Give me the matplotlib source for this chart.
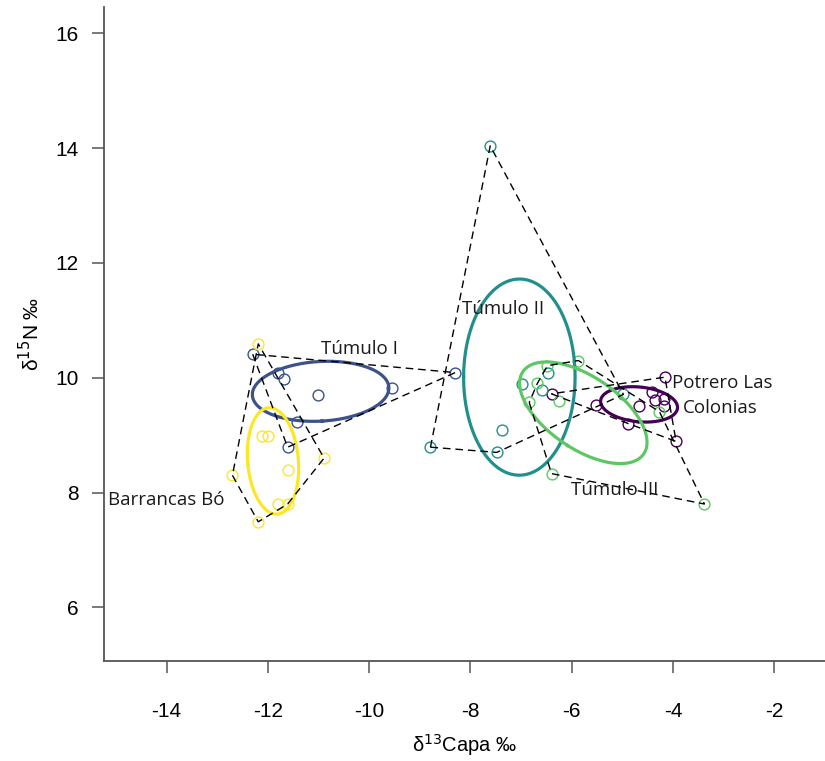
import numpy as np
import matplotlib
matplotlib.use("Agg")
import matplotlib.pyplot as plt

plt.rcParams['axes.unicode_minus'] = False

# groups, SIBER-style viridis colours
groups = ["Potrero Las Colonias", "Túmulo I", "Túmulo II", "Túmulo III", "Barrancas Bó"]
colors = ["#440154", "#3B528B", "#21908C", "#5DC863", "#FDE725"]

# d13C / d15N values
potrero_c = [-4.16, -5.52, -6.40, -4.67, -4.88, -4.42, -4.36, -4.18, -4.18, -3.94]
potrero_n = [10.01, 9.53, 9.72, 9.50, 9.20, 9.76, 9.61, 9.63, 9.51, 8.89]

tumulo1_c = [-12.30, -11.80, -11.68, -11.01, -9.55, -11.42, -11.61, -8.30]
tumulo1_n = [10.41, 10.09, 9.98, 9.70, 9.82, 9.23, 8.79, 10.09]

tumulo2_c = [-7.61, -8.79, -7.38, -7.48, -6.47, -6.58, -4.98, -6.99]
tumulo2_n = [14.04, 8.79, 9.09, 8.70, 10.08, 9.79, 9.71, 9.89]

tumulo3_c = [-5.87, -6.48, -6.68, -6.84, -6.25, -6.40, -3.38, -4.27]
tumulo3_n = [10.30, 10.21, 9.90, 9.57, 9.60, 8.33, 7.80, 9.41]

barrancas_c = [-12.19, -12.11, -11.99, -10.89, -11.61, -12.70, -11.80, -11.61, -12.19]
barrancas_n = [10.59, 8.99, 8.99, 8.60, 8.39, 8.30, 7.80, 7.80, 7.49]

data_c = [potrero_c, tumulo1_c, tumulo2_c, tumulo3_c, barrancas_c]
data_n = [potrero_n, tumulo1_n, tumulo2_n, tumulo3_n, barrancas_n]


def convex_hull(xs, ys):
    pts = sorted(set(zip(xs, ys)))

    def cross(o, a, b):
        return (a[0] - o[0]) * (b[1] - o[1]) - (a[1] - o[1]) * (b[0] - o[0])

    lower, upper = [], []
    for p in pts:
        while len(lower) >= 2 and cross(lower[-2], lower[-1], p) <= 0:
            lower.pop()
        lower.append(p)
    for p in reversed(pts):
        while len(upper) >= 2 and cross(upper[-2], upper[-1], p) <= 0:
            upper.pop()
        upper.append(p)
    hull = lower[:-1] + upper[:-1]
    hull.append(hull[0])
    return np.array(hull)


def standard_ellipse(xs, ys, n=200):
    # standard ellipse (1 sd) from the covariance matrix
    S = np.cov(xs, ys)
    vals, vecs = np.linalg.eigh(S)
    t = np.linspace(0, 2 * np.pi, n)
    circ = np.vstack([np.cos(t), np.sin(t)])
    pts = vecs @ np.diag(np.sqrt(vals)) @ circ
    return pts[0] + np.mean(xs), pts[1] + np.mean(ys)


fig = plt.figure(figsize=(8.25, 7.61), dpi=100)
ax = fig.add_axes([0.1264, 0.1318, 0.8736, 0.859])

for cs, ns, col in zip(data_c, data_n, colors):
    ax.plot(cs, ns, 'o', mfc='none', mec=col, ms=7.8, mew=1.0, zorder=3)

for cs, ns, col in zip(data_c, data_n, colors):
    ex, ey = standard_ellipse(cs, ns)
    ax.plot(ex, ey, color=col, lw=2.3, zorder=4)

for cs, ns in zip(data_c, data_n):
    h = convex_hull(cs, ns)
    ax.plot(h[:, 0], h[:, 1], color='black', lw=1.0, ls=(0, (5.5, 3.5)), zorder=5)

lab_font = dict(family='Open Sans', fontsize=13.5, color='#1a1a1a', zorder=6)
ax.text(-10.20, 10.50, "Túmulo I", ha='center', va='center', **lab_font)
ax.text(-7.36, 11.20, "Túmulo II", ha='center', va='center', **lab_font)
ax.text(-5.16, 8.05, "Túmulo III", ha='center', va='center', **lab_font)
ax.text(-4.02, 9.91, "Potrero Las", ha='left', va='center', **lab_font)
ax.text(-3.80, 9.48, "Colonias", ha='left', va='center', **lab_font)
ax.text(-15.16, 7.87, "Barrancas Bó", ha='left', va='center', **lab_font)

ax.set_xlim(-15.23, -1.0)
ax.set_ylim(5.07, 16.46)
ax.set_xticks(np.arange(-14, -1, 2))
ax.set_yticks(np.arange(6, 17, 2))

for s in ['top', 'right']:
    ax.spines[s].set_visible(False)
for s in ['left', 'bottom']:
    ax.spines[s].set_color('#555555')
    ax.spines[s].set_linewidth(1.3)

ax.tick_params(axis='both', direction='out', length=8.5, width=1.1, color='#555555',
               labelsize=15, labelcolor='black')
ax.tick_params(axis='x', pad=21)
ax.tick_params(axis='y', pad=10)
for lab in ax.get_xticklabels() + ax.get_yticklabels():
    lab.set_family('Liberation Sans')

ax.set_xlabel("δ$^{13}$Capa ‰", fontsize=14.5, family='Liberation Sans', labelpad=8)
ax.set_ylabel("δ$^{15}$N ‰", fontsize=15, family='Liberation Sans', labelpad=9)

fig.savefig("out.png", dpi=100)
